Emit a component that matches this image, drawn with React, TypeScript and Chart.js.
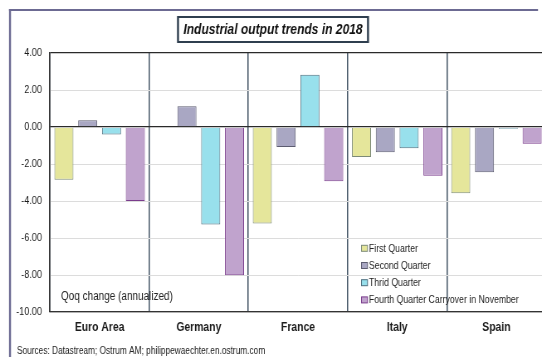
import React, { useEffect, useRef } from "react";
import { Chart, registerables } from "chart.js";

Chart.register(...registerables);

const categories = ["Euro Area", "Germany", "France", "Italy", "Spain"];
const seriesLabels = [
  "First Quarter",
  "Second Quarter",
  "Thrid Quarter",
  "Fourth Quarter Carryover in November",
];
const q1 = [-2.85, null, -5.22, -1.62, -3.58];
const q2 = [0.37, 1.12, -1.08, -1.37, -2.44];
const q3 = [-0.4, -5.27, 2.82, -1.15, -0.1];
const q4 = [-4.0, -8.02, -2.93, -2.64, -0.9];
const yTicks = [4, 2, 0, -2, -4, -6, -8, -10];

const titleText = "Industrial output trends in 2018";
const noteText = "Qoq change (annualized)";
const sourceText = "Sources: Datastream; Ostrum AM; philippewaechter.en.ostrum.com";

const fills = ["#e5e69b", "#a9a7c3", "#98e0ec", "#c0a3cd"];
const borders = ["#7c8a78", "#5c5c70", "#4e6e7e", "#7a3c8c"];
const FONT = '"Liberation Sans", Arial, sans-serif';

// horizontal squeeze to imitate a narrow typeface
const S = 0.83;
const W = 680;
const H = 357;
const X = (px: number) => px / S;

const decorPlugin = {
  id: "decor",
  afterDraw(chart: any) {
    const ctx = chart.ctx;
    ctx.save();
    // outer frame (left + top edges; the rest lies outside the picture)
    ctx.fillStyle = "#6c6a92";
    ctx.fillRect(X(9), 9, 2 / S, H);
    ctx.fillRect(X(9), 9, X(538) - X(9), 2);
    // title box
    ctx.font = `italic bold 14.5px ${FONT}`;
    const cx = X(273);
    const boxW = X(190);
    ctx.fillStyle = "#ffffff";
    ctx.fillRect(cx - boxW / 2, 17, boxW, 25);
    ctx.strokeStyle = "#2f3f4f";
    ctx.lineWidth = 2;
    ctx.beginPath();
    ctx.moveTo(cx - boxW / 2, 17);
    ctx.lineTo(cx + boxW / 2, 17);
    ctx.moveTo(cx - boxW / 2, 42);
    ctx.lineTo(cx + boxW / 2, 42);
    ctx.stroke();
    ctx.lineWidth = 2 / S;
    ctx.beginPath();
    ctx.moveTo(cx - boxW / 2, 16);
    ctx.lineTo(cx - boxW / 2, 43);
    ctx.moveTo(cx + boxW / 2, 16);
    ctx.lineTo(cx + boxW / 2, 43);
    ctx.stroke();
    ctx.fillStyle = "#111";
    ctx.textAlign = "center";
    ctx.textBaseline = "middle";
    ctx.fillText(titleText, cx, 30);
    // note
    ctx.font = `12px ${FONT}`;
    ctx.textAlign = "left";
    ctx.fillStyle = "#222";
    ctx.fillText(noteText, X(61), 297);
    // sources
    ctx.font = `10px ${FONT}`;
    ctx.fillText(sourceText, X(17), 351);
    // legend
    ctx.font = `10.5px ${FONT}`;
    chart.data.datasets.forEach((ds: any, i: number) => {
      const y = 248.3 + i * 17.2;
      ctx.fillStyle = ds.backgroundColor;
      ctx.fillRect(X(361.5), y - 3, X(6), 6);
      ctx.strokeStyle = ds.borderColor;
      ctx.lineWidth = 1;
      ctx.strokeRect(X(361.5), y - 3, X(6), 6);
      ctx.fillStyle = "#222";
      ctx.fillText(ds.label, X(369), y + 0.5);
    });
    ctx.restore();
  },
};

export default function App() {
  const ref = useRef<HTMLCanvasElement | null>(null);
  useEffect(() => {
    if (!ref.current) return;
    const data = [q1, q2, q3, q4];
    const chart = new Chart(ref.current, {
      type: "bar",
      data: {
        labels: categories,
        datasets: data.map((d, i) => ({
          label: seriesLabels[i],
          data: d,
          backgroundColor: fills[i],
          borderColor: borders[i],
          borderWidth: 1,
          barPercentage: 0.8,
          categoryPercentage: 0.96,
        })),
      },
      options: {
        responsive: false,
        animation: false,
        devicePixelRatio: 1,
        layout: { padding: { top: 53, right: W - X(546), left: 0, bottom: 0 } },
        plugins: {
          legend: { display: false },
          tooltip: { enabled: false },
          title: { display: false },
        },
        scales: {
          x: {
            grid: {
              offset: true,
              color: "#4b5b6b",
              lineWidth: 1.3 / S,
              drawTicks: false,
            },
            border: { display: true, color: "#333", width: 1.3 },
            ticks: {
              color: "#1a1a1a",
              font: { family: FONT, size: 12.5, weight: "bold" },
              padding: 8,
            },
            afterFit: (s: any) => {
              s.height = 45;
            },
          },
          y: {
            min: -10,
            max: 4,
            afterBuildTicks: (s: any) => {
              s.ticks = yTicks.map((v) => ({ value: v }));
            },
            ticks: {
              color: "#1a1a1a",
              font: { family: FONT, size: 11 },
              padding: X(8),
              callback: (v: any) => Number(v).toFixed(2),
            },
            grid: {
              drawTicks: false,
              color: (c: any) =>
                c.tick && (c.tick.value === 0 || c.tick.value === 4) ? "#2a2a2a" : "#dcdcdc",
              lineWidth: (c: any) =>
                c.tick && (c.tick.value === 0 || c.tick.value === 4) ? 1.3 : 1,
            },
            border: { display: true, color: "#333", width: 1.3 / S },
            afterFit: (s: any) => {
              s.width = X(50);
            },
          },
        },
      },
      plugins: [decorPlugin],
    });
    return () => chart.destroy();
  }, []);
  return (
    <div
      style={{
        position: "fixed",
        left: 0,
        top: 0,
        width: 542,
        height: 357,
        overflow: "hidden",
        background: "#fff",
      }}
    >
      <canvas
        ref={ref}
        width={W}
        height={H}
        style={{
          width: W,
          height: H,
          display: "block",
          transform: `scaleX(${S})`,
          transformOrigin: "0 0",
        }}
      />
    </div>
  );
}
